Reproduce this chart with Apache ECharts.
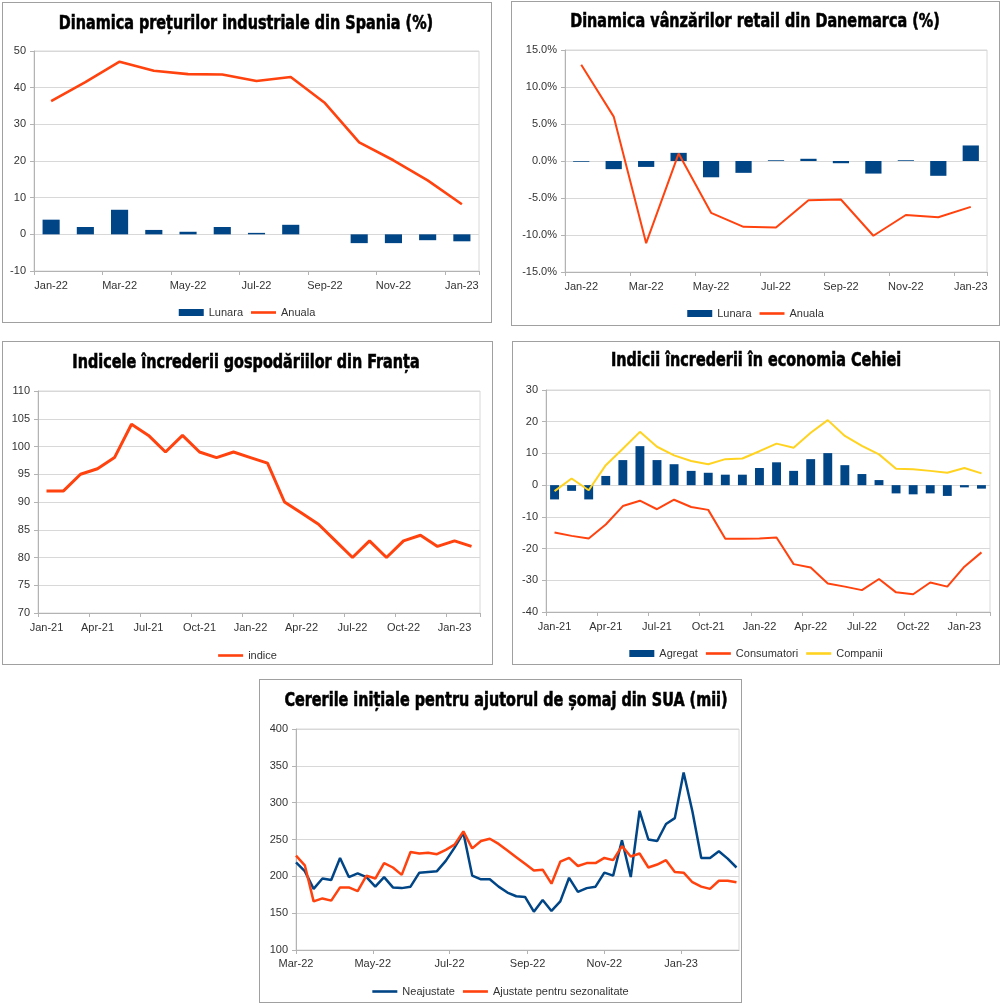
<!DOCTYPE html>
<html><head><meta charset="utf-8">
<script src="https://cdn.jsdelivr.net/npm/echarts@6/dist/echarts.min.js"></script>
<style>
html,body{margin:0;padding:0;background:#fff;width:1000px;height:1003px;overflow:hidden;}
.p{position:absolute;box-sizing:border-box;border:1px solid #a0a0a0;background:#fff;}
.c{position:absolute;left:0;top:0;right:0;bottom:0;}
</style></head><body>
<div class="p" style="left:2px;top:2px;width:490px;height:321px"><div id="c1" class="c"></div></div>
<div class="p" style="left:511px;top:1px;width:489px;height:325px"><div id="c2" class="c"></div></div>
<div class="p" style="left:2px;top:341px;width:491px;height:324px"><div id="c3" class="c"></div></div>
<div class="p" style="left:512px;top:341px;width:488px;height:324px"><div id="c4" class="c"></div></div>
<div class="p" style="left:259px;top:679px;width:483px;height:324px"><div id="c5" class="c"></div></div>
<script>
// ---------- DATA ----------
const spCats = ['Jan-22','Feb-22','Mar-22','Apr-22','May-22','Jun-22','Jul-22','Aug-22','Sep-22','Oct-22','Nov-22','Dec-22','Jan-23'];
const spLunara = [4.0, 2.0, 6.7, 1.2, 0.7, 2.0, 0.4, 2.6, 0.0, -2.4, -2.4, -1.6, -1.9];
const spAnuala = [36.3, 41.5, 47.1, 44.6, 43.7, 43.6, 41.8, 42.9, 35.8, 25.1, 20.2, 14.7, 8.2];

const dkCats = ['Jan-22','Feb-22','Mar-22','Apr-22','May-22','Jun-22','Jul-22','Aug-22','Sep-22','Oct-22','Nov-22','Dec-22','Jan-23'];
const dkLunara = [-0.1, -1.1, -0.8, 1.1, -2.2, -1.6, 0.1, 0.3, -0.3, -1.7, 0.1, -2.0, 2.1];
const dkAnuala = [13.0, 6.0, -11.1, 1.0, -7.0, -8.9, -9.0, -5.3, -5.2, -10.1, -7.3, -7.6, -6.2];

const frCats = ['Jan-21','Feb-21','Mar-21','Apr-21','May-21','Jun-21','Jul-21','Aug-21','Sep-21','Oct-21','Nov-21','Dec-21',
  'Jan-22','Feb-22','Mar-22','Apr-22','May-22','Jun-22','Jul-22','Aug-22','Sep-22','Oct-22','Nov-22','Dec-22','Jan-23','Feb-23'];
const frIndice = [92, 92, 95, 96, 98, 104, 102, 99, 102, 99, 98, 99, 98, 97, 90, 88, 86, 83, 80, 83, 80, 83, 84, 82, 83, 82];

const czCats = ['Jan-21','Feb-21','Mar-21','Apr-21','May-21','Jun-21','Jul-21','Aug-21','Sep-21','Oct-21','Nov-21','Dec-21',
  'Jan-22','Feb-22','Mar-22','Apr-22','May-22','Jun-22','Jul-22','Aug-22','Sep-22','Oct-22','Nov-22','Dec-22','Jan-23','Feb-23'];
const czAgregat = [-4.5, -1.8, -4.5, 2.9, 7.9, 12.3, 7.9, 6.6, 4.5, 3.9, 3.3, 3.3, 5.4, 7.2, 4.5, 8.2, 10.1, 6.3, 3.5, 1.6, -2.6, -2.9, -2.6, -3.4, -0.7, -1.1];
const czConsumatori = [-14.9, -16.0, -16.8, -12.4, -6.6, -4.9, -7.6, -4.6, -6.9, -7.8, -16.9, -16.9, -16.8, -16.5, -24.9, -26.0, -31.0, -32.0, -33.1, -29.6, -33.8, -34.4, -30.7, -32.0, -25.7, -21.2];
const czCompanii = [-1.9, 2.1, -1.6, 6.3, 11.5, 16.8, 12.1, 9.4, 7.6, 6.6, 8.2, 8.4, 10.7, 13.1, 11.8, 16.5, 20.5, 15.5, 12.4, 9.7, 5.2, 5.0, 4.5, 3.9, 5.4, 3.7];

const usWeeks = ['2022-03-05','2022-03-12','2022-03-19','2022-03-26','2022-04-02','2022-04-09','2022-04-16','2022-04-23','2022-04-30',
  '2022-05-07','2022-05-14','2022-05-21','2022-05-28','2022-06-04','2022-06-11','2022-06-18','2022-06-25',
  '2022-07-02','2022-07-09','2022-07-16','2022-07-23','2022-07-30','2022-08-06','2022-08-13','2022-08-20','2022-08-27',
  '2022-09-03','2022-09-10','2022-09-17','2022-09-24','2022-10-01','2022-10-08','2022-10-15','2022-10-22','2022-10-29',
  '2022-11-05','2022-11-12','2022-11-19','2022-11-26','2022-12-03','2022-12-10','2022-12-17','2022-12-24','2022-12-31',
  '2023-01-07','2023-01-14','2023-01-21','2023-01-28','2023-02-04','2023-02-11','2023-02-18'];
const usNeajustate = [219, 207, 183, 197, 195, 225, 199, 204, 199, 186, 199, 185, 184, 186, 205, 206, 207, 221, 239, 259, 201, 196, 196, 186, 178, 173,
  172, 152, 168, 153, 166, 198, 179, 184, 186, 205, 201, 249, 199, 289, 250, 248, 271, 279, 341, 288, 225, 225, 234, 224, 212];
const usAjustate = [228, 215, 166, 170, 167, 185, 185, 180, 201, 197, 218, 212, 202, 233, 231, 232, 230, 236, 243, 261, 238, 248, 251, 244, 235, 226,
  217, 208, 209, 190, 220, 225, 214, 218, 218, 225, 222, 241, 227, 231, 212, 216, 222, 206, 205, 192, 186, 183, 194, 194, 192];
const usTickDates = ['2022-03-05','2022-05-05','2022-07-05','2022-09-05','2022-11-05','2023-01-05'];
const usRange = ['2022-03-05','2023-02-20'];

// ---------- STYLE ----------
const BLUE = '#004586', ORANGE = '#ff420e', YELLOW = '#ffd320';
const FONT = '"Liberation Sans", Arial, sans-serif';
const TFONT = 'bold 20px "DejaVu Sans Condensed", "DejaVu Sans", sans-serif';
const LBL = { fontFamily: FONT, fontSize: 11, color: '#333' };
const AXC = '#b3b3b3', GRIDC = '#d8d8d8';
const MON = ['Jan','Feb','Mar','Apr','May','Jun','Jul','Aug','Sep','Oct','Nov','Dec'];
const LINE_ICON = 'path://M0,0M25,7M0,2.2h25v2.6h-25z';
function pd(s) { const a = s.split('-'); return new Date(+a[0], +a[1] - 1, +a[2]).getTime(); }

function titleG(text, cx, cy) {
  return [{ type: 'text', x: cx, y: cy, scaleX: 0.8, z: 10,
    style: { text, x: 0, y: 0, align: 'center', verticalAlign: 'middle', textAlign: 'center',
      textVerticalAlign: 'middle', font: TFONT, fill: '#000', stroke: '#000', lineWidth: 0.6 } }];
}
function legend(top, items) {
  return { top, left: 'center', padding: 0, itemWidth: 25, itemHeight: 7, itemGap: 8,
    textStyle: Object.assign({}, LBL),
    data: items.map(it => ({ name: it[0], icon: it[1] === 'bar' ? 'rect' : LINE_ICON })) };
}
function grid(l, r, t, b) {
  return { left: l, right: r, top: t, bottom: b, containLabel: false, outerBoundsMode: 'none',
    show: true, borderColor: GRIDC, borderWidth: 1, backgroundColor: 'transparent' };
}
function yAx(min, max, interval, fmt) {
  return { type: 'value', min, max, interval,
    axisLine: { show: true, lineStyle: { color: AXC } },
    axisTick: { show: true, length: 4, lineStyle: { color: AXC } },
    splitLine: { show: true, lineStyle: { color: GRIDC } },
    axisLabel: Object.assign({ margin: 8, formatter: fmt }, LBL) };
}
function catX(data, interval, gap) {
  return { type: 'category', data, boundaryGap: gap,
    axisLine: { show: true, onZero: false, lineStyle: { color: AXC } },
    axisTick: { show: true, length: 4, interval, lineStyle: { color: AXC } },
    splitLine: { show: false },
    axisLabel: Object.assign({ margin: 9, interval }, LBL) };
}
function line(name, data, color, width) {
  return { name, type: 'line', data, symbol: 'none', showSymbol: false, z: 3,
    lineStyle: { color, width }, itemStyle: { color } };
}
function bar(name, data, w) {
  return { name, type: 'bar', data, barWidth: w, itemStyle: { color: BLUE } };
}
function make(id, opt) {
  const c = echarts.init(document.getElementById(id), null, { renderer: 'canvas' });
  opt.animation = false;
  c.setOption(opt);
}

// Panel 1: Spain
make('c1', {
  graphic: titleG('Dinamica prețurilor industriale din Spania (%)', 243, 21),
  legend: legend(304, [['Lunara', 'bar'], ['Anuala', 'line']]),
  grid: grid(31, 12, 48, 51),
  xAxis: catX(spCats, 1, true),
  yAxis: yAx(-10, 50, 10),
  series: [bar('Lunara', spLunara, '50%'), line('Anuala', spAnuala, ORANGE, 2.6)]
});

// Panel 2: Denmark
make('c2', {
  graphic: titleG('Dinamica vânzărilor retail din Danemarca (%)', 243, 20),
  legend: legend(306, [['Lunara', 'bar'], ['Anuala', 'line']]),
  grid: grid(53, 12, 48, 53),
  xAxis: catX(dkCats, 1, true),
  yAxis: yAx(-15, 15, 5, v => v.toFixed(1) + '%'),
  series: [bar('Lunara', dkLunara, '50%'), line('Anuala', dkAnuala, ORANGE, 2)]
});

// Panel 3: France
make('c3', {
  graphic: titleG('Indicele încrederii gospodăriilor din Franța', 243, 21),
  legend: legend(308, [['indice', 'line']]),
  grid: grid(35, 12, 49, 51),
  xAxis: catX(frCats, 2, true),
  yAxis: yAx(70, 110, 5),
  series: [line('indice', frIndice, ORANGE, 3)]
});

// Panel 4: Czech
make('c4', {
  graphic: titleG('Indicii încrederii în economia Cehiei', 243, 19),
  legend: legend(306, [['Agregat', 'bar'], ['Consumatori', 'line'], ['Companii', 'line']]),
  grid: grid(33, 9, 48, 52),
  xAxis: catX(czCats, 2, true),
  yAxis: yAx(-40, 30, 10),
  series: [bar('Agregat', czAgregat, '52%'), line('Consumatori', czConsumatori, ORANGE, 2),
           line('Companii', czCompanii, YELLOW, 2)]
});

// Panel 5: USA
const tickTs = usTickDates.map(pd);
make('c5', {
  graphic: titleG('Cererile inițiale pentru ajutorul de șomaj din SUA (mii)', 246, 21),
  legend: legend(306, [['Neajustate', 'line'], ['Ajustate pentru sezonalitate', 'line']]),
  grid: grid(36, 2, 49, 52),
  xAxis: { type: 'value', min: pd(usRange[0]), max: pd(usRange[1]),
    axisLine: { show: true, onZero: false, lineStyle: { color: AXC } },
    axisTick: { show: true, length: 4, customValues: tickTs, lineStyle: { color: AXC } },
    minorTick: { show: false },
    splitLine: { show: false },
    axisLabel: Object.assign({ margin: 8, customValues: tickTs, showMinLabel: true, showMaxLabel: true,
      formatter: v => { const d = new Date(v); return MON[d.getMonth()] + '-' + String(d.getFullYear()).slice(2); } }, LBL) },
  yAxis: yAx(100, 400, 50),
  series: [
    line('Neajustate', usWeeks.map((d, i) => [pd(d), usNeajustate[i]]), BLUE, 2.5),
    line('Ajustate pentru sezonalitate', usWeeks.map((d, i) => [pd(d), usAjustate[i]]), ORANGE, 2.5)
  ]
});
</script>
</body></html>
